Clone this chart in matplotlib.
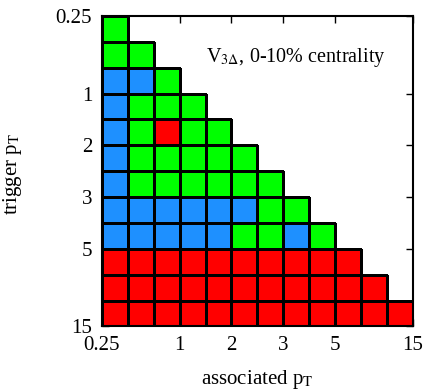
import numpy as np
import matplotlib
matplotlib.use("Agg")
import matplotlib.pyplot as plt
from matplotlib.colors import ListedColormap

plt.rcParams['font.family'] = ['Liberation Serif', 'DejaVu Serif']
plt.rcParams['mathtext.fontset'] = 'stix'

# factorization pattern per trigger bin (top row = lowest trigger pT)
# G = green, B = blue, R = red
rows = [
    "G",
    "GG",
    "BBG",
    "BGGG",
    "BGRGG",
    "BGGGGG",
    "BGGGGGG",
    "BBBBBBGG",
    "BBBBBGGBG",
    "RRRRRRRRRR",
    "RRRRRRRRRRR",
    "RRRRRRRRRRRR",
]
tick_pos = [0, 3, 5, 7, 9, 12]
tick_labels = ["0.25", "1", "2", "3", "5", "15"]

code = {"G": 0, "B": 1, "R": 2}
n = len(rows)
cmap = ListedColormap(["#00ff00", "#1e90ff", "#ff0000"])

fig = plt.figure(figsize=(4.23, 3.90), dpi=100)
ax = fig.add_axes([0.241, 0.163, 0.735, 0.796])

# one mesh per row so only filled cells get outlines
for i, r in enumerate(rows):
    vals = np.array([[code[c] for c in r]], dtype=float)
    ax.pcolormesh(np.arange(len(r) + 1), [i, i + 1], vals, cmap=cmap,
                  vmin=-0.5, vmax=2.5, edgecolors="black", linewidth=1.0)

ax.set_xlim(0, n)
ax.set_ylim(n, 0)

ax.set_xticks(tick_pos)
ax.set_xticklabels(tick_labels)
ax.set_yticks(tick_pos)
ax.set_yticklabels(tick_labels)
ax.tick_params(direction="in", top=True, right=True, length=5, width=1,
               labelsize=15, pad=7)
for s in ax.spines.values():
    s.set_linewidth(1.5)
    s.set_zorder(5)

ax.set_xlabel(r"associated p$_{\mathrm{T}}$", fontsize=15, labelpad=9)
ax.set_ylabel(r"trigger p$_{\mathrm{T}}$", fontsize=15)
ax.yaxis.set_label_coords(-0.25, 0.49)

ax.text(4.0, 1.6, r"V$_{3\Delta}$, 0-10% centrality", fontsize=14.5,
        ha="left", va="center")

fig.savefig("out.png", dpi=100)
